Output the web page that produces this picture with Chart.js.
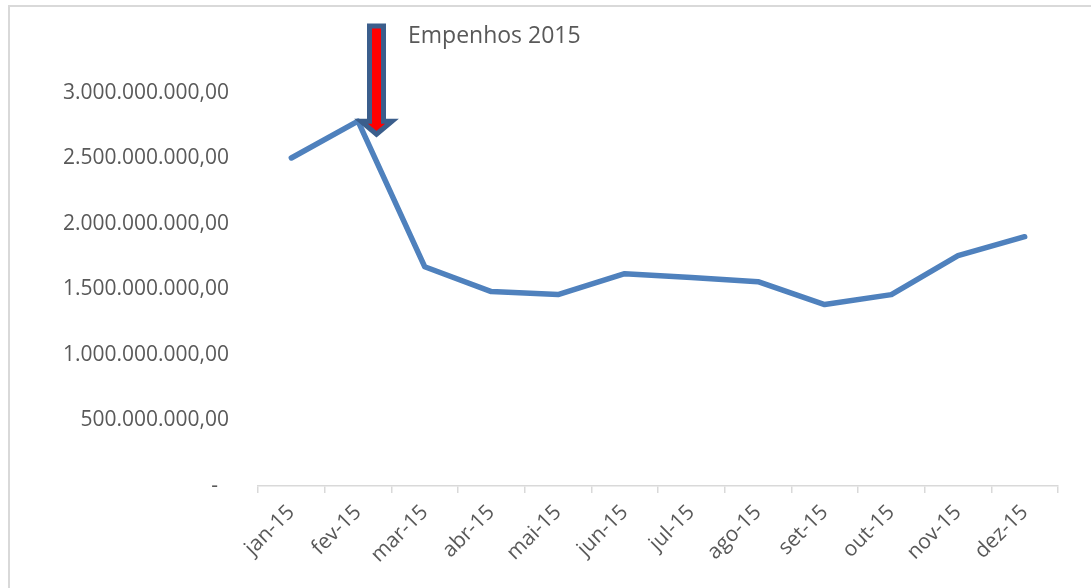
<!DOCTYPE html>
<html>
<head>
<meta charset="utf-8">
<script src="https://cdn.jsdelivr.net/npm/chart.js@4"></script>
<style>
  html, body { margin: 0; padding: 0; background: #fff; }
  #wrap { width: 1091px; height: 588px; position: relative; }
</style>
</head>
<body>
<div id="wrap"><canvas id="c" width="1091" height="588"></canvas></div>
<script>
const categories = ['jan-15','fev-15','mar-15','abr-15','mai-15','jun-15','jul-15','ago-15','set-15','out-15','nov-15','dez-15'];
const empenhos = [2504000000, 2785000000, 1674000000, 1484000000, 1461000000, 1621000000, 1591000000, 1560000000, 1385000000, 1461000000, 1758000000, 1903000000];
const yTickValues = [0, 500000000, 1000000000, 1500000000, 2000000000, 2500000000, 3000000000];
const yTickLabels = ['-  ', '500.000.000,00', '1.000.000.000,00', '1.500.000.000,00', '2.000.000.000,00', '2.500.000.000,00', '3.000.000.000,00'];
const annotationText = 'Empenhos 2015';
const annotationIndex = 1;

const FONT = '"Open Sans", "Noto Sans", sans-serif';
const GRAY = '#d9d9d9';
const TEXT = '#595959';

const decor = {
  id: 'decor',
  beforeDraw(chart) {
    const ctx = chart.ctx;
    ctx.save();
    ctx.fillStyle = '#fff';
    ctx.fillRect(0, 0, chart.width, chart.height);
    ctx.strokeStyle = GRAY;
    ctx.lineWidth = 2;
    ctx.strokeRect(9, 6, 3000, 3000);
    ctx.restore();
  },
  afterDatasetsDraw(chart) {
    const ctx = chart.ctx;
    const xs = chart.scales.x, ys = chart.scales.y;
    const px = xs.getPixelForValue(annotationIndex);
    const py = ys.getPixelForValue(empenhos[annotationIndex]);
    const cx = px + 18.5;
    const tip = py + 13;
    const top = ys.top - 67;
    const headBase = tip - 13;
    ctx.save();
    ctx.beginPath();
    ctx.moveTo(cx - 7, top);
    ctx.lineTo(cx + 7, top);
    ctx.lineTo(cx + 7, headBase);
    ctx.lineTo(cx + 15.5, headBase);
    ctx.lineTo(cx, tip);
    ctx.lineTo(cx - 15.5, headBase);
    ctx.lineTo(cx - 7, headBase);
    ctx.closePath();
    ctx.fillStyle = '#ff0000';
    ctx.fill();
    ctx.lineWidth = 5;
    ctx.lineJoin = 'miter';
    ctx.strokeStyle = '#3b5e8c';
    ctx.stroke();
    ctx.fillStyle = TEXT;
    ctx.font = '23px ' + FONT;
    ctx.textAlign = 'left';
    ctx.textBaseline = 'alphabetic';
    ctx.fillText(annotationText, cx + 31.5, ys.top - 50);
    ctx.restore();
  }
};

new Chart(document.getElementById('c'), {
  type: 'line',
  data: {
    labels: categories,
    datasets: [{
      label: annotationText,
      data: empenhos,
      borderColor: '#4f81bd',
      borderWidth: 5.5,
      pointRadius: 0,
      pointHoverRadius: 0,
      tension: 0,
      borderCapStyle: 'round',
      borderJoinStyle: 'round',
      fill: false
    }]
  },
  options: {
    responsive: false,
    animation: false,
    events: [],
    layout: { padding: { left: 0, right: 33, top: 93, bottom: 0 } },
    plugins: { legend: { display: false }, tooltip: { enabled: false }, title: { display: false } },
    scales: {
      x: {
        type: 'category',
        offset: true,
        grid: { display: true, offset: true, drawOnChartArea: false, drawTicks: true, tickLength: 7, color: GRAY, lineWidth: 1.5 },
        border: { display: true, color: GRAY, width: 1.5 },
        ticks: { color: TEXT, font: { family: FONT, size: 21 }, maxRotation: 45, minRotation: 45, autoSkip: false, padding: 7 },
        afterFit(scale) { scale.height = 102; }
      },
      y: {
        min: 0,
        max: 3000000000,
        afterBuildTicks(scale) { scale.ticks = yTickValues.map(v => ({ value: v })); },
        grid: { display: false, drawTicks: false },
        border: { display: false },
        ticks: {
          color: TEXT,
          font: { family: FONT, size: 21 },
          padding: 29,
          callback(value) {
            const i = yTickValues.indexOf(value);
            return i >= 0 ? yTickLabels[i] : '';
          }
        },
        afterFit(scale) { scale.width = 258; }
      }
    }
  },
  plugins: [decor]
});
</script>
</body>
</html>
